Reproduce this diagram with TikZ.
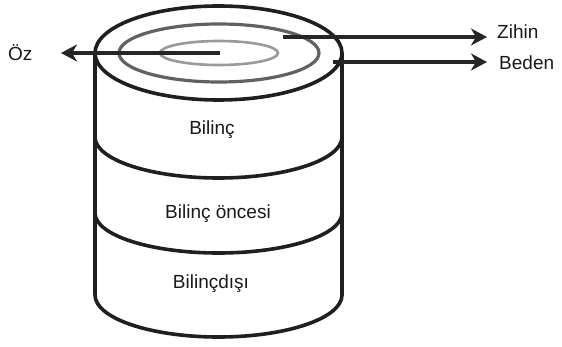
\documentclass[tikz,border=0pt]{standalone}
\usepackage{fontspec}
\setmainfont{Liberation Sans}
\usetikzlibrary{arrows.meta}
\begin{document}
\begin{tikzpicture}[x=1pt,y=-1pt,
  outline/.style={line width=3.6pt,draw=black!88},
  ring/.style={line width=3.2pt,draw=black!62},
  innerring/.style={line width=2.6pt,draw=black!40},
  arr/.style={line width=3.6pt,draw=black!85,-{Stealth[length=16pt,width=17pt,inset=5pt]}},
  lbl/.style={font=\fontsize{19}{21}\selectfont,text=black!90,inner sep=0pt},
  layer/.style={font=\fontsize{19}{21}\selectfont,text=black!90,inner sep=0pt}]
\useasboundingbox (0,0) rectangle (562,347);
% cylinder body
\draw[outline] (95,53) -- (95,295) arc[start angle=180,end angle=360,x radius=123.5,y radius=-42] -- (342,53);
% dividers
\draw[outline] (95,137) arc[start angle=180,end angle=360,x radius=123.5,y radius=-41];
\draw[outline] (95,213) arc[start angle=180,end angle=360,x radius=123.5,y radius=-40];
% top rings
\fill[white] (218.5,53) ellipse[x radius=123.5,y radius=47];
\draw[outline] (218.5,53) ellipse[x radius=123.5,y radius=47];
\draw[ring] (219,53) ellipse[x radius=100,y radius=29];
\draw[innerring] (219,53) ellipse[x radius=59,y radius=12];
% labels
\node[lbl,anchor=west] (oz) at (8,53) {Öz};
\node[lbl,anchor=west] (zihin) at (497,32) {Zihin};
\node[lbl,anchor=west] (beden) at (499,63) {Beden};
\node[layer] (bilinc) at (212,130) {Bilinç};
\node[layer] (oncesi) at (218,214) {Bilinç öncesi};
\node[layer] (disi) at (211,284) {Bilinçdışı};
% arrows
\coordinate (ozstart) at (220,53);
\coordinate (oztip) at (61,53);
\coordinate (zstart) at (283,37);
\coordinate (ztip) at (487,37);
\coordinate (bstart) at (333,62);
\coordinate (btip) at (487,62);
\draw[arr] (ozstart) -- (oztip);
\draw[arr] (zstart) -- (ztip);
\draw[arr] (bstart) -- (btip);
\end{tikzpicture}
\end{document}
